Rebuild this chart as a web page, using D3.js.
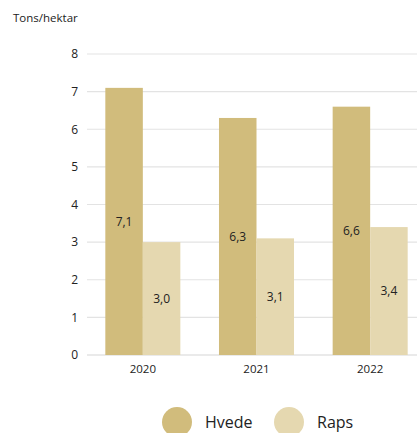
<!DOCTYPE html>
<html><head><meta charset="utf-8">
<script src="https://cdn.jsdelivr.net/npm/d3@7"></script>
<style>body{margin:0;background:#fff;} svg{display:block;font-family:"Open Sans",sans-serif;}</style>
</head><body>
<svg id="c" width="417" height="433"></svg>
<script>
const years = ["2020","2021","2022"];
const seriesNames = ["Hvede","Raps"];
const hvede = [7.1, 6.3, 6.6];
const raps = [3.0, 3.1, 3.4];
const yTicks = [0,1,2,3,4,5,6,7,8];
const colors = ["#d1bc7c","#e5d8b0"];

const svg = d3.select("#c");
const y = d3.scaleLinear().domain([0,8]).range([355,54]);
const x0 = d3.scaleBand().domain(years).range([86,427]).paddingInner(0.34).paddingOuter(0.17);
const x1 = d3.scaleBand().domain(seriesNames).range([0, x0.bandwidth()]);
const fmt = v => d3.format(".1f")(v).replace(".", ",");

// grid
svg.append("g").selectAll("line").data(yTicks).join("line")
  .attr("x1",87).attr("x2",417).attr("y1",d=>y(d)).attr("y2",d=>y(d))
  .attr("stroke",d=>d===0?"#d6d6d6":"#e3e3e3").attr("stroke-width",1.2);
svg.append("g").selectAll("text").data(yTicks).join("text")
  .attr("x",78).attr("y",d=>y(d)).attr("dy","0.36em").attr("text-anchor","end")
  .attr("font-size",12).attr("fill","#222").text(d=>d);

svg.append("text").attr("x",13).attr("y",22).attr("font-size",11.5).attr("fill","#222").text("Tons/hektar");

const data = years.map((yr,i)=>({yr, vals:[{s:"Hvede",v:hvede[i]},{s:"Raps",v:raps[i]}]}));
const g = svg.append("g").selectAll("g").data(data).join("g").attr("transform",d=>`translate(${x0(d.yr)},0)`);
g.selectAll("rect").data(d=>d.vals).join("rect")
  .attr("x",d=>x1(d.s)).attr("width",x1.bandwidth())
  .attr("y",d=>y(d.v)).attr("height",d=>y(0)-y(d.v))
  .attr("fill",(d,i)=>colors[i]);
g.selectAll("text").data(d=>d.vals).join("text")
  .attr("x",d=>x1(d.s)+x1.bandwidth()/2).attr("y",d=>(y(d.v)+y(0))/2)
  .attr("dy","0.36em").attr("text-anchor","middle").attr("font-size",12).attr("fill","#222")
  .text(d=>fmt(d.v));

svg.append("g").selectAll("text").data(years).join("text")
  .attr("x",d=>x0(d)+x0.bandwidth()/2).attr("y",369).attr("dy","0.36em")
  .attr("text-anchor","middle").attr("font-size",11.5).attr("fill","#222").text(d=>d);

// legend
const legX = [177, 289];
const lg = svg.append("g").selectAll("g").data(seriesNames).join("g");
lg.append("circle").attr("cx",(d,i)=>legX[i]).attr("cy",422).attr("r",15).attr("fill",(d,i)=>colors[i]);
lg.append("text").attr("x",(d,i)=>legX[i]+28).attr("y",422).attr("dy","0.36em")
  .attr("font-size",16).attr("fill","#222").text(d=>d);
</script>
</body></html>
